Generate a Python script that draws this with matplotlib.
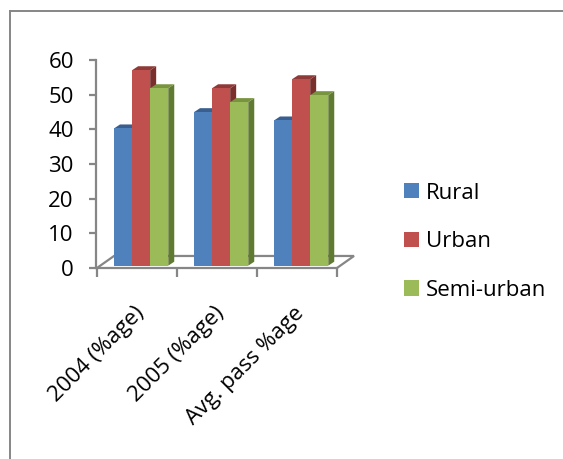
import matplotlib
matplotlib.use('Agg')
import matplotlib.pyplot as plt
from matplotlib.patches import Polygon, Patch
from matplotlib.lines import Line2D

plt.rcParams['font.family'] = ['Open Sans', 'DejaVu Sans']

categories = ['2004 (%age)', '2005 (%age)', 'Avg. pass %age']
series = ['Rural', 'Urban', 'Semi-urban']
rural = [39.6, 44.3, 41.9]
urban = [56.4, 51.2, 53.8]
semi_urban = [51.2, 47.2, 49.2]
y_ticks = [0, 10, 20, 30, 40, 50, 60]

front_colors = ['#4F81BD', '#C0504D', '#9BBB59']
top_colors = ['#3A5F8E', '#8E3A38', '#78943E']
side_colors = ['#2F4F78', '#7A2F2D', '#617A31']
grey = '#868686'
fs = 16

# pseudo-3D geometry, in data units
bar_w = 0.226
group_left = -0.2875
bar_dx, bar_dy = 0.075, 1.15
floor_dx, floor_dy = 0.2125, 3.46
bar_base = 0.66

fig = plt.figure(figsize=(5.63, 4.59), dpi=100)
ax = fig.add_axes([0.16519, 0.40109, 0.46892, 0.48322])
ax.set_xlim(-0.55, 2.75)
ax.set_ylim(-2, 62)
ax.patch.set_visible(False)

for s in ['top', 'right']:
    ax.spines[s].set_visible(False)

# value axis
ax.spines['left'].set_position(('data', -0.5125))
ax.spines['left'].set_bounds(0, 60)
ax.spines['left'].set_color(grey)
ax.spines['left'].set_linewidth(1.6)
ax.set_yticks(y_ticks)
ax.tick_params(axis='y', direction='out', length=5, width=1.6, color=grey,
               labelsize=fs, pad=11)

# category axis along the front edge of the floor
ax.spines['bottom'].set_position(('data', 0))
ax.spines['bottom'].set_bounds(-0.5, 2.5)
ax.spines['bottom'].set_color(grey)
ax.spines['bottom'].set_linewidth(1.6)
ax.set_xticks([-0.5, 0.5, 1.5, 2.5])
ax.set_xticklabels([])
ax.tick_params(axis='x', which='major', direction='out', length=6.5, width=1.6,
               color=grey)
ax.set_xticks([i - 0.04 for i in range(len(categories))], minor=True)
ax.set_xticklabels(categories, minor=True, rotation=45, ha='right', va='top',
                   rotation_mode='anchor', fontsize=fs)
ax.tick_params(axis='x', which='minor', length=0, pad=25)

# floor outline
fx = [-0.5, -0.5 + floor_dx, 2.5 + floor_dx, 2.5]
fy = [0, floor_dy, floor_dy, 0]
ax.plot(fx, fy, color=grey, lw=1.6, solid_joinstyle='miter', zorder=1)

data = [rural, urban, semi_urban]
for i in range(len(categories)):
    for j, vals in enumerate(data):
        x0 = i + group_left + j * bar_w
        x1 = x0 + bar_w
        top = bar_base + vals[i]
        side = Polygon([(x1, bar_base), (x1 + bar_dx, bar_base + bar_dy),
                        (x1 + bar_dx, top + bar_dy), (x1, top)],
                       closed=True, facecolor=side_colors[j], edgecolor='none',
                       zorder=2)
        lid = Polygon([(x0, top), (x0 + bar_dx, top + bar_dy),
                       (x1 + bar_dx, top + bar_dy), (x1, top)],
                      closed=True, facecolor=top_colors[j], edgecolor='none',
                      zorder=2)
        ax.add_patch(side)
        ax.add_patch(lid)
        ax.bar(x0, vals[i], width=bar_w, bottom=bar_base, align='edge',
               color=front_colors[j], edgecolor='none', zorder=2)

handles = [Patch(facecolor=c, edgecolor='none') for c in front_colors]
fig.legend(handles, series, loc='upper left', bbox_to_anchor=(0.7176, 0.6020),
           frameon=False, fontsize=fs, handlelength=0.676, handleheight=0.676,
           handletextpad=0.315, labelspacing=1.24, borderpad=0, borderaxespad=0)

# chart area border (top and left edges)
fig.add_artist(Line2D([10 / 563, 1.0], [1 - 11 / 459, 1 - 11 / 459],
                      transform=fig.transFigure, color=grey, lw=1.4))
fig.add_artist(Line2D([10 / 563, 10 / 563], [0.0, 1 - 11 / 459],
                      transform=fig.transFigure, color=grey, lw=1.4))

fig.savefig('out.png', dpi=100)
